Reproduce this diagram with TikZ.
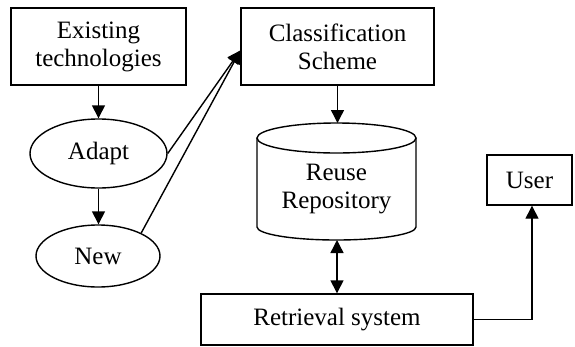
\documentclass[tikz,border=0pt]{standalone}
\usepackage{fontspec}
\setmainfont{Liberation Serif}
\usetikzlibrary{shapes.geometric,arrows.meta,calc}
\begin{document}
\begin{tikzpicture}[x=1pt,y=-1pt,
  txt/.style={inner sep=0pt,align=center,font=\fontsize{25}{28}\selectfont},
  box/.style={txt,draw,line width=1.4pt},
  oval/.style={txt,draw,ellipse,line width=1.4pt},
  conn/.style={line width=1.4pt,-{Triangle[length=13pt,width=13pt]}},
  dconn/.style={line width=1.4pt,{Triangle[length=13pt,width=13pt]}-{Triangle[length=13pt,width=13pt]}}
]
\useasboundingbox (0,0) rectangle (575,346);
\node[box,minimum width=175pt,minimum height=77pt] (exist) at (98.5,46.5) {Existing\\technologies};
\node[box,minimum width=193pt,minimum height=77pt] (class) at (337.5,46.5) {Classification\\Scheme};
\node[oval,minimum width=137pt,minimum height=69pt] (adapt) at (98.5,153.5) {Adapt};
\node[oval,minimum width=124pt,minimum height=62pt] (new) at (98,256) {New};
% cylinder
\draw[line width=1.4pt] (336.5,138) ellipse[x radius=79.5pt,y radius=15pt];
\draw[line width=1.4pt] (257,138) -- (257,227) arc[start angle=180,end angle=360,x radius=79.5pt,y radius=13pt] -- (416,138);
\node[txt] (repo) at (336.5,189) {Reuse\\Repository};
\coordinate (repotop) at (337,123);
\coordinate (repobot) at (337,240);
\node[box,minimum width=272pt,minimum height=51pt] (retr) at (337,319.5) {Retrieval system};
\node[box,minimum width=85pt,minimum height=50pt] (user) at (529.5,180) {User};
% connectors
\coordinate (tip) at ($(class.west)+(0,4)$);
\draw[conn] (exist.south) -- (exist.south |- adapt.north);
\draw[conn] (adapt.south) -- (adapt.south |- new.north);
\draw[conn] (adapt.east) -- (tip);
\draw[conn] (new.28) -- (tip);
\draw[conn] (class.south) -- (class.south |- repotop);
\draw[dconn] (repobot) -- (repobot |- retr.north);
\draw[conn] (retr.east) -| ($(user.south)+(2.5,0)$);
\end{tikzpicture}
\end{document}
